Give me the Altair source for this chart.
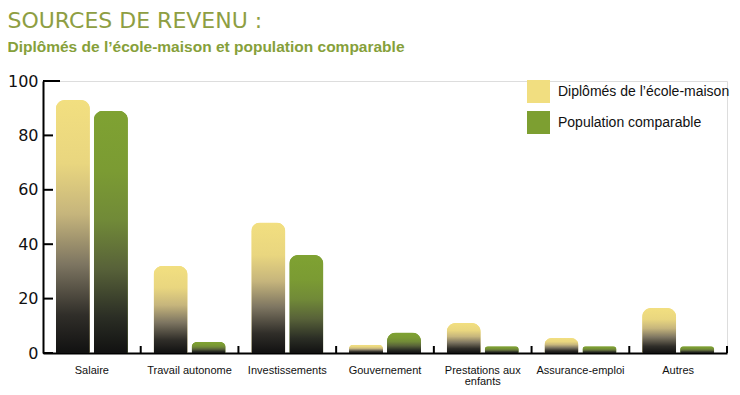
import altair as alt
import pandas as pd

categories = ["Salaire", "Travail autonome", "Investissements", "Gouvernement",
              "Prestations aux enfants", "Assurance-emploi", "Autres"]
series_names = ["Diplômés de l’école-maison", "Population comparable"]
homeschool = [93, 32, 48, 3, 11, 5.5, 16.5]
comparable = [89, 4, 36, 7.5, 2.5, 2.5, 2.5]
y_ticks = [0, 20, 40, 60, 80, 100]

rows = []
for i, c in enumerate(categories):
    rows.append({"cat": c, "series": series_names[0], "value": homeschool[i]})
    rows.append({"cat": c, "series": series_names[1], "value": comparable[i]})
df = pd.DataFrame(rows)
ticks_df = pd.DataFrame({"v": y_ticks})

W, H = 684, 272
YELLOW = "#f1de80"
GREEN = "#7d9f31"

grad_yellow = {
    "gradient": "linear", "x1": 0, "y1": 1, "x2": 0, "y2": 0,
    "stops": [
        {"offset": 0, "color": "#111111"},
        {"offset": 0.15, "color": "#302e29"},
        {"offset": 0.35, "color": "#7d7561"},
        {"offset": 0.55, "color": "#c6b57c"},
        {"offset": 0.75, "color": "#e9d67f"},
        {"offset": 1, "color": "#f2df80"},
    ],
}
grad_green = {
    "gradient": "linear", "x1": 0, "y1": 1, "x2": 0, "y2": 0,
    "stops": [
        {"offset": 0, "color": "#111111"},
        {"offset": 0.15, "color": "#2b2e25"},
        {"offset": 0.35, "color": "#586239"},
        {"offset": 0.55, "color": "#718a38"},
        {"offset": 0.75, "color": "#7b9b33"},
        {"offset": 1, "color": "#7fa232"},
    ],
}

x_enc = alt.X("cat:N", sort=categories,
              scale=alt.Scale(paddingInner=0, paddingOuter=0),
              axis=alt.Axis(title=None, labelAngle=0, ticks=False, domain=True,
                            grid=False,
                            domainColor="#000", domainWidth=2,
                            labelFont="Liberation Sans", labelFontSize=11,
                            labelLineHeight=11,
                            labelColor="#111", labelPadding=11, labelLimit=120,
                            labelExpr="datum.label == 'Prestations aux enfants' ? ['Prestations aux', 'enfants'] : datum.label"))
xoff_enc = alt.XOffset("series:N", sort=series_names,
                       scale=alt.Scale(paddingInner=0.105, paddingOuter=0.338))
y_enc = alt.Y("value:Q", scale=alt.Scale(domain=[0, 100], nice=False),
              axis=alt.Axis(title=None, values=y_ticks, ticks=False, grid=False,
                            domainColor="#000", domainWidth=2,
                            labelFont="DejaVu Sans", labelFontSize=16,
                            labelColor="#111", labelPadding=5))

radius = 9

legend_bars = alt.Chart(df).mark_bar(
    cornerRadiusTopLeft=radius, cornerRadiusTopRight=radius
).encode(
    x=x_enc, xOffset=xoff_enc, y=y_enc,
    color=alt.Color("series:N", sort=series_names,
                    scale=alt.Scale(domain=series_names, range=[YELLOW, GREEN]),
                    legend=alt.Legend(title=None, orient="none", legendX=484, legendY=-1,
                                      symbolType="square", symbolSize=529,
                                      symbolStrokeWidth=0, rowPadding=8,
                                      labelFont="Liberation Sans", labelFontSize=14,
                                      labelColor="#111", labelOffset=8, labelLimit=250)),
)

grad_bars = alt.Chart(df).mark_bar(
    cornerRadiusTopLeft=radius, cornerRadiusTopRight=radius
).encode(
    x=alt.X("cat:N", sort=categories),
    xOffset=alt.XOffset("series:N", sort=series_names),
    y=alt.Y("value:Q"),
    fill=alt.condition(alt.datum.series == series_names[0],
                       alt.value(grad_yellow), alt.value(grad_green)),
)

x_ticks = alt.Chart(pd.DataFrame({"cat": categories})).mark_rule(
    color="#000", strokeWidth=2
).encode(
    x=alt.X("cat:N", sort=categories, bandPosition=1),
    y=alt.value(H - 7), y2=alt.value(H),
)

y_tick_marks = alt.Chart(ticks_df).transform_filter(alt.datum.v < 100).mark_rule(
    color="#000", strokeWidth=2
).encode(
    y=alt.Y("v:Q"), x=alt.value(0), x2=alt.value(10),
)
y_tick_top = alt.Chart(ticks_df).transform_filter(alt.datum.v == 100).mark_rule(
    color="#000", strokeWidth=2
).encode(
    y=alt.Y("v:Q"), x=alt.value(0), x2=alt.value(17),
)

chart = alt.layer(legend_bars, grad_bars, x_ticks, y_tick_marks, y_tick_top).properties(
    width=W, height=H,
    autosize=alt.AutoSizeParams(type="none"),
    padding={"left": 35, "top": 73, "right": 5, "bottom": 32},
    title=alt.TitleParams(
        text="SOURCES DE REVENU :",
        subtitle="Diplômés de l’école-maison et population comparable",
        anchor="start", frame="bounds",
        font="DejaVu Sans", fontSize=22, fontWeight="normal", color="#8e9e42",
        subtitleFont="Liberation Sans", subtitleFontSize=15.5,
        subtitleFontWeight="bold", subtitleColor="#86a03a",
        subtitlePadding=7, offset=17,
    ),
).configure_view(stroke="transparent", strokeWidth=0, strokeOpacity=0).configure(background="white")

chart.save("out.html", embed_options={"renderer": "svg", "actions": False})
